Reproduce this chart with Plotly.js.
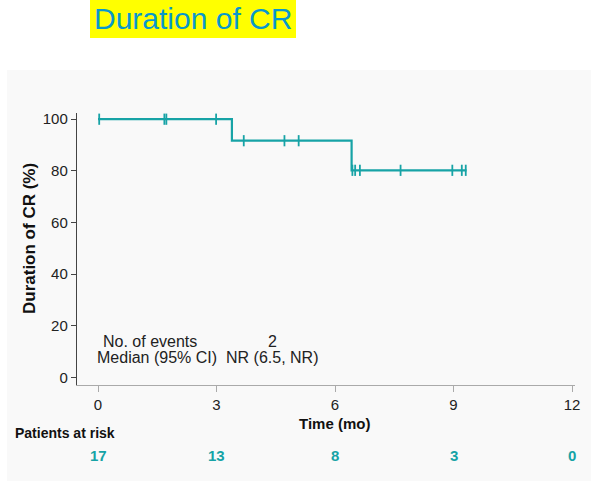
<!DOCTYPE html>
<html>
<head>
<meta charset="utf-8">
<script src="https://cdn.plot.ly/plotly-3.0.1.min.js"></script>
<style>
  html, body { margin: 0; padding: 0; background: #ffffff; }
  #chart { width: 591px; height: 481px; }
</style>
</head>
<body>
<div id="chart"></div>
<script>
// Kaplan-Meier curve: duration of complete response
const stepTimes = [0, 3.39, 6.42, 9.33];          // months
const stepSurvival = [100, 91.67, 80.21, 80.21];   // %

// Censored patients (tick marks on the curve)
const censorTimes = [0.03, 1.68, 1.73, 2.99, 3.69, 4.72, 5.08, 6.44, 6.51, 6.63, 7.66, 8.97, 9.21, 9.31];
const censorSurvival = [100, 100, 100, 100, 91.67, 91.67, 91.67, 80.21, 80.21, 80.21, 80.21, 80.21, 80.21, 80.21];

// Number at risk table
const riskTimes = [0, 3, 6, 9, 12];
const riskCounts = [17, 13, 8, 3, 0];

// Summary statistics box
const statLabels = ['No. of events', 'Median (95% CI)'];
const statValues = ['2', 'NR (6.5, NR)'];

const xTicks = [0, 3, 6, 9, 12];
const yTicks = [0, 20, 40, 60, 80, 100];

const xTitle = 'Time (mo)';
const yTitle = 'Duration of CR (%)';

const TEAL = '#17a3a6';
const TEXT = '#222222';
const FONT = 'Liberation Sans, Arial, sans-serif';

// plot-area edges in pixels, used to place decorations in paper units
const L = 77, R = 575, T = 113, B = 385, W = 591, H = 481;
const fx = px => (px - L) / (R - L);
const fy = py => (B - py) / (B - T);

const traces = [
  {
    x: stepTimes, y: stepSurvival,
    type: 'scatter', mode: 'lines',
    line: { color: TEAL, width: 2.2, shape: 'hv' },
    hoverinfo: 'skip', showlegend: false
  },
  {
    x: censorTimes, y: censorSurvival,
    type: 'scatter', mode: 'markers',
    marker: { symbol: 'line-ns', size: 8, line: { color: TEAL, width: 1.8 } },
    hoverinfo: 'skip', showlegend: false
  }
];

const annotations = [];

// slide heading
annotations.push({
  xref: 'paper', yref: 'paper', x: fx(193), y: fy(19),
  xanchor: 'center', yanchor: 'middle', showarrow: false,
  text: 'Duration of CR',
  font: { family: FONT, size: 30, color: '#0898cc' }
});

// axis titles
annotations.push({
  xref: 'paper', yref: 'paper', x: fx(334), y: fy(423),
  xanchor: 'center', yanchor: 'middle', showarrow: false,
  text: '<b>' + xTitle + '</b>',
  font: { family: FONT, size: 15, color: '#111111' }
});
annotations.push({
  xref: 'paper', yref: 'paper', x: fx(29), y: fy(239),
  xanchor: 'center', yanchor: 'middle', showarrow: false, textangle: -90,
  text: '<b>' + yTitle + '</b>',
  font: { family: FONT, size: 17, color: '#111111' }
});

// statistics rows
const statLabelX = [150, 157];
const statRowY = [341, 357];
statLabels.forEach((t, i) => {
  annotations.push({
    xref: 'paper', yref: 'paper', x: fx(statLabelX[i]), y: fy(statRowY[i]),
    xanchor: 'center', yanchor: 'middle', showarrow: false, text: t,
    font: { family: FONT, size: 16, color: TEXT }
  });
});
statValues.forEach((t, i) => {
  annotations.push({
    xref: 'paper', yref: 'paper', x: fx(272), y: fy(statRowY[i]),
    xanchor: 'center', yanchor: 'middle', showarrow: false, text: t,
    font: { family: FONT, size: 16, color: TEXT }
  });
});

// at-risk table
annotations.push({
  xref: 'paper', yref: 'paper', x: fx(13), y: fy(433),
  xanchor: 'left', yanchor: 'middle', showarrow: false,
  text: '<b>Patients at risk</b>',
  font: { family: FONT, size: 14, color: '#111111' }
});
riskTimes.forEach((t, i) => {
  annotations.push({
    xref: 'x', yref: 'paper', x: t, y: fy(455),
    xanchor: 'center', yanchor: 'middle', showarrow: false,
    text: '<b>' + riskCounts[i] + '</b>',
    font: { family: FONT, size: 15, color: TEAL }
  });
});

const shapes = [
  // light panel behind the figure
  {
    type: 'rect', xref: 'paper', yref: 'paper', layer: 'below',
    x0: fx(7), x1: fx(W), y0: fy(70), y1: fy(H),
    fillcolor: '#f9f9f9', line: { width: 0 }
  },
  // heading highlight
  {
    type: 'rect', xref: 'paper', yref: 'paper', layer: 'below',
    x0: fx(90), x1: fx(296), y0: fy(0), y1: fy(38),
    fillcolor: '#ffff00', line: { width: 0 }
  }
];

const layout = {
  width: W, height: H,
  margin: { l: L, r: W - R, t: T, b: H - B, pad: 0 },
  paper_bgcolor: '#ffffff',
  plot_bgcolor: 'rgba(0,0,0,0)',
  font: { family: FONT, color: TEXT },
  xaxis: {
    range: [-0.532, 12.076],
    tickvals: xTicks, ticktext: xTicks.map(String),
    ticks: 'outside', ticklen: 6, tickwidth: 1, tickcolor: '#aaaaaa',
    showline: true, linecolor: '#aaaaaa', linewidth: 1.2,
    showgrid: false, zeroline: false,
    tickfont: { size: 15, color: TEXT }
  },
  yaxis: {
    range: [-2.9, 102.4],
    tickvals: yTicks, ticktext: yTicks.map(String),
    ticks: 'outside', ticklen: 5, tickwidth: 1, tickcolor: '#444444',
    showline: true, linecolor: '#444444', linewidth: 1.2,
    showgrid: false, zeroline: false,
    tickfont: { size: 15, color: TEXT }
  },
  annotations: annotations,
  shapes: shapes,
  showlegend: false
};

Plotly.newPlot('chart', traces, layout, { displayModeBar: false, staticPlot: true });
</script>
</body>
</html>
